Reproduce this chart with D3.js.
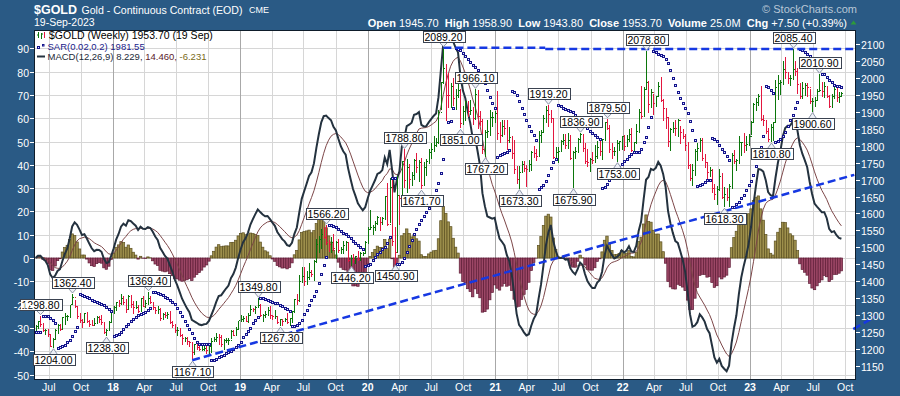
<!DOCTYPE html>
<html>
<head>
<meta charset="utf-8">
<script src="https://cdn.jsdelivr.net/npm/d3@7"></script>
<style>
  body { margin: 0; background: #2a5a85; }
  svg { display: block; }
  text { font-family: "Liberation Sans", Arial, sans-serif; }
</style>
</head>
<body>
<svg id="chart" width="900" height="396"></svg>
<script>
// weekly bars [high, low, close], first week starts Mon 22-May-2017
var bars2017 = [[1272,1250,1268],[1283,1260,1280],[1298.8,1266,1271],[1277,1250,1255],[1260,1240,1256],[1258,1235,1242],[1245,1205,1209],[1233,1204,1228],[1258,1227,1255],[1273,1245,1269],[1275,1254,1258],[1295,1255,1294],[1306,1270,1297],[1301,1282,1297],[1331,1293,1330],[1362.4,1330,1351],[1345,1322,1325],[1327,1290,1297],[1305,1276,1284],[1290,1262,1277],[1306,1276,1305],[1310,1276,1280],[1286,1264,1272],[1285,1268,1269],[1292,1268,1274],[1298,1273,1294],[1298,1278,1288],[1300,1272,1279],[1280,1244,1249],[1260,1238.3,1256],[1282,1254,1279],[1310,1278,1309]];
var bars2018 = [[1326,1302,1322],[1340,1311,1338],[1345,1324,1333],[1362,1330,1350],[1357,1331,1337],[1348,1307,1316],[1360,1315,1356],[1358,1322,1330],[1341,1303,1323],[1342,1317,1324],[1330,1306,1312],[1352,1310,1349],[1357,1323,1327],[1344,1322,1335],[1369.4,1330,1348],[1357,1333,1338],[1339,1315,1323],[1320,1302,1315],[1326,1304,1318],[1321,1282,1291],[1307,1285,1303],[1310,1293,1298],[1310,1289,1302],[1311,1275,1278],[1282,1262,1270],[1273,1246,1254],[1265,1239,1255],[1262,1236,1241],[1245,1211,1231],[1237,1222,1231],[1237,1211,1223],[1225,1206,1219],[1222,1167.1,1191],[1216,1182,1212],[1216,1196,1206],[1210,1194,1199],[1214,1193,1199],[1214,1194,1202],[1209,1185,1196],[1210,1181,1207],[1233,1187,1222],[1237,1220,1227],[1246,1222,1235],[1243,1211,1234],[1240,1205,1212],[1230,1197,1225],[1232,1217,1226],[1233,1212,1226],[1256,1230,1252],[1257,1238,1241],[1264,1240,1258],[1284,1258,1283],[1301,1279,1287]];
var bars2019 = [[1298,1280,1290],[1298,1279,1282],[1305,1276,1298],[1331,1297,1318],[1322,1308,1316],[1327,1303,1322],[1349.8,1320,1329],[1333,1294,1298],[1303,1281,1299],[1312,1293,1302],[1325,1298,1314],[1327,1290,1298],[1301,1286,1295],[1315,1288,1295],[1295,1274,1277],[1290,1267.3,1286],[1288,1268,1282],[1292,1279,1287],[1305,1275,1277],[1291,1267,1289],[1312,1276,1311],[1349,1306,1346],[1362,1329,1344],[1418,1340,1400],[1442,1395,1413],[1442,1386,1400],[1430,1388,1412],[1453,1403,1427],[1433,1412,1419],[1462,1400,1457],[1524,1453,1509],[1535,1482,1523],[1555,1495,1537],[1560,1525,1529],[1566.2,1506,1515],[1521,1485,1507],[1530,1484,1515],[1540,1488,1497],[1519,1465,1513],[1524,1483,1492],[1500,1479,1494],[1519,1481,1505],[1519,1490,1514],[1514,1456,1462],[1478,1446.2,1468],[1479,1455,1463],[1474,1452,1473],[1488,1461,1465],[1486,1460,1481],[1487,1476,1481],[1519,1479,1515],[1559,1511,1552]];
var bars2020 = [[1611,1552,1560],[1565,1536,1560],[1577,1547,1571],[1592,1565,1587],[1587,1548,1573],[1589,1565,1586],[1651,1580,1649],[1691,1563,1566],[1705,1572,1676],[1704,1505,1516],[1560,1450.9,1484],[1710,1483,1654],[1652,1566,1645],[1756,1643,1752],[1788.8,1676,1698],[1761,1660,1735],[1747,1672,1700],[1723,1681,1713],[1762,1698,1756],[1779,1720,1735],[1758,1693,1751],[1764,1671.7,1683],[1751,1683,1737],[1760,1711,1753],[1789,1746,1780],[1807,1760,1790],[1829,1782,1802],[1822,1795,1810],[1905,1804,1897],[1988,1905,1985],[2089.2,1981,2028],[2040,1874,1949],[2015,1911,1947],[1985,1911,1975],[2001,1916,1940],[1967,1906,1948],[1989,1941,1962],[1967,1851,1866],[1918,1860,1900],[1931,1873,1930],[1933,1885,1900],[1936,1890,1905],[1913,1860,1880],[1966.1,1877,1952],[1964,1850,1886],[1901,1859,1872],[1878,1775,1788],[1846,1767.2,1840],[1877,1823,1843],[1906,1828,1882],[1900,1856,1883],[1902,1866,1895]];
var bars2021 = [[1962,1817,1835],[1870,1808,1830],[1877,1827,1856],[1876,1831,1850],[1876,1786,1814],[1855,1809,1824],[1829,1760,1777],[1816,1716,1729],[1741,1687,1699],[1740,1673.3,1720],[1756,1718,1745],[1756,1722,1733],[1743,1678,1729],[1759,1722,1744],[1785,1726,1780],[1798,1763,1777],[1790,1756,1768],[1843,1769,1831],[1846,1808,1838],[1890,1838,1881],[1916,1868,1905],[1919.2,1856,1892],[1905,1868,1879],[1878,1762,1764],[1797,1768,1781],[1796,1750,1784],[1818,1783,1811],[1834,1801,1816],[1834,1789,1801],[1836,1790,1814],[1832,1759,1763],[1783,1675.9,1780],[1795,1762,1782],[1822,1778,1819],[1836.9,1808,1833],[1834,1781,1791],[1809,1745,1752],[1789,1737,1751],[1764,1721,1759],[1781,1745,1757],[1801,1750,1768],[1815,1760,1796],[1814,1770,1784],[1820,1758,1818],[1871,1815,1868],[1879.5,1845,1852],[1862,1779,1788],[1809,1762,1784],[1795,1770,1784],[1816,1753,1805],[1815,1785,1812],[1830,1786,1828]];
var bars2022 = [[1831,1785,1797],[1832,1795,1817],[1848,1810,1832],[1853,1780,1786],[1812,1781,1808],[1865,1806,1842],[1907,1838,1898],[1976,1878,1887],[1974,1889,1966],[2078.8,1964,1985],[1990,1895,1921],[1966,1910,1958],[1953,1890,1923],[1947,1915,1945],[1988,1943,1974],[2003,1930,1934],[1938,1872,1911],[1909,1850,1882],[1884,1797,1811],[1853,1785,1847],[1871,1837,1851],[1875,1828,1850],[1879,1825,1875],[1859,1805,1840],[1848,1820,1827],[1835,1784,1801],[1812,1732,1742],[1747,1695,1703],[1745,1680,1727],[1789,1711,1782],[1808,1754,1791],[1824,1780,1815],[1824,1754,1762],[1775,1735,1749],[1751,1699,1722],[1736,1708,1728],[1732,1661,1675],[1688,1641,1655],[1680,1624,1672],[1732,1665,1709],[1720,1642,1648],[1677,1618.3,1656],[1675,1638,1648],[1686,1620,1681],[1779,1673,1771],[1786,1747,1754],[1760,1724,1755],[1830,1745,1809],[1812,1770,1810],[1836,1779,1800],[1830,1785,1804],[1834,1798,1826]];
var bars2023 = [[1874,1831,1869],[1926,1867,1921],[1941,1903,1928],[1953,1918,1945],[1975,1873,1876],[1891,1858,1874],[1877,1834,1842],[1852,1811,1817],[1865,1810.8,1855],[1870,1813,1867],[1993,1866,1973],[2010,1934,1983],[1994,1950,1986],[2050,1978,2025],[2063,1997,2015],[2018,1982,1999],[2010,1975,1999],[2085.4,1995,2025],[2051,2007,2019],[2030,1952,1981],[1985,1939,1946],[1988,1938,1969],[1985,1947,1977],[1985,1943,1971],[1966,1923,1929],[1940,1900.6,1929],[1944,1913,1933],[1966,1932,1960],[2010.9,1957,1962],[1989,1943,1960],[1987,1940,1976],[1976,1940,1946],[1950,1910,1916],[1952,1911,1946],[1975,1937,1966],[1974,1930,1942],[1958,1925,1946],[1958.9,1943.8,1953.7]];
var firstOpen = 1258;

var highLabels = [["2017-06-06",1298.80],["2017-09-08",1362.40],["2018-04-11",1369.40],["2019-02-20",1349.80],["2019-09-04",1566.20],["2020-04-14",1788.80],["2020-08-07",2089.20],["2020-11-06",1966.10],["2021-06-01",1919.20],["2021-09-03",1836.90],["2021-11-16",1879.50],["2022-03-08",2078.80],["2023-05-04",2085.40],["2023-07-20",2010.90]];
var lowLabels = [["2017-07-10",1204.00],["2017-12-12",1238.30],["2018-08-16",1167.10],["2019-04-23",1267.30],["2019-11-12",1446.20],["2020-03-16",1450.90],["2020-06-05",1671.70],["2020-09-24",1851.00],["2020-11-30",1767.20],["2021-03-08",1673.30],["2021-08-09",1675.90],["2021-12-15",1753.00],["2022-10-21",1618.30],["2023-02-28",1810.80],["2023-06-29",1900.60]];

// hand drawn trend lines [date, price]
var resistanceA = [["2020-08-05",2089.2],["2021-05-24",2089.2]];
var resistanceB = [["2021-05-24",2085],["2023-10-27",2085]];
var supportLine = [["2018-08-16",1167.1],["2023-10-27",1714]];
var supportStub = [["2023-10-24",1259],["2023-12-25",1295]];

var macdTicks = d3.range(-50, 91, 10);
var priceTicks = d3.range(1150, 2101, 50);

var bg = "#2a5a85";
var W = 900, H = 396;
var plot = {l: 34, r: 856, t: 30, b: 380};

var parse = d3.timeParse("%Y-%m-%d");
var startWeek = new Date(2017, 4, 22);
var bars = [].concat(bars2017, bars2018, bars2019, bars2020, bars2021, bars2022, bars2023);

var x = d3.scaleTime()
    .domain([new Date(2018, 0, 1), new Date(2023, 0, 1)])
    .range([113, 750]);
var yPrice = d3.scaleLinear().domain([1150, 2100]).range([366, 44]);
var yMacd = d3.scaleLinear().domain([0, 90]).range([258, 48.3]);

var weekDate = function(i) { return d3.timeDay.offset(startWeek, 7 * i); };
var barX = function(i) { return x(d3.timeDay.offset(weekDate(i), 2)); };
var weekIndex = function(d) {
    var days = Math.round((d - startWeek) / 864e5);
    return Math.floor(days / 7);
};

// indicators from the weekly closes / ranges
var closes = bars.map(function(b) { return b[2]; });
var ema = function(vals, n) {
    var k = 2 / (n + 1), e = vals[0];
    return vals.map(function(v, i) { if (i) e = v * k + e * (1 - k); return e; });
};
var e12 = ema(closes, 12), e26 = ema(closes, 26);
var macd = e12.map(function(v, i) { return v - e26[i]; });
var signal = ema(macd, 9);
var hist = macd.map(function(v, i) { return v - signal[i]; });

var sar = (function() {
    var out = [], up = closes[1] >= closes[0], af = 0.02;
    var ep = up ? bars[0][0] : bars[0][1];
    var s = up ? bars[0][1] : bars[0][0];
    out[0] = s;
    for (var i = 1; i < bars.length; i++) {
        s = s + af * (ep - s);
        var hi = bars[i][0], lo = bars[i][1];
        if (up) {
            s = Math.min(s, bars[i - 1][1], bars[Math.max(0, i - 2)][1]);
            if (lo < s) { up = false; s = ep; ep = lo; af = 0.02; }
            else if (hi > ep) { ep = hi; af = Math.min(af + 0.02, 0.2); }
        } else {
            s = Math.max(s, bars[i - 1][0], bars[Math.max(0, i - 2)][0]);
            if (hi > s) { up = true; s = ep; ep = hi; af = 0.02; }
            else if (lo < ep) { ep = lo; af = Math.min(af + 0.02, 0.2); }
        }
        out[i] = s;
    }
    return out;
})();

var svg = d3.select("#chart");
svg.append("rect").attr("width", W).attr("height", H).attr("fill", bg);

svg.append("defs").append("clipPath").attr("id", "clip")
   .append("rect").attr("x", plot.l + 0.5).attr("y", plot.t + 0.5)
   .attr("width", plot.r - plot.l - 1).attr("height", plot.b - plot.t - 1);

svg.append("rect").attr("x", plot.l).attr("y", plot.t)
   .attr("width", plot.r - plot.l).attr("height", plot.b - plot.t).attr("fill", "#fff");

// grid
var months = d3.timeMonth.range(new Date(2017, 6, 1), new Date(2023, 9, 2), 3);
var grid = svg.append("g").attr("shape-rendering", "crispEdges");
grid.selectAll("line.h").data(macdTicks).enter().append("line")
    .attr("x1", plot.l).attr("x2", plot.r)
    .attr("y1", function(d) { return Math.round(yMacd(d)) + 0.5; })
    .attr("y2", function(d) { return Math.round(yMacd(d)) + 0.5; })
    .attr("stroke", "#d6d6d6");
grid.selectAll("line.v").data(months).enter().append("line")
    .attr("x1", function(d) { return Math.round(x(d)) + 0.5; })
    .attr("x2", function(d) { return Math.round(x(d)) + 0.5; })
    .attr("y1", plot.t).attr("y2", plot.b)
    .attr("stroke", function(d) { return d.getMonth() === 0 ? "#a8a8a8" : "#d6d6d6"; });

var inner = svg.append("g").attr("clip-path", "url(#clip)");

// MACD histogram
var step = barX(1) - barX(0);
inner.append("g").selectAll("rect").data(hist).enter().append("rect")
    .attr("x", function(d, i) { return barX(i) - step / 2; })
    .attr("width", step)
    .attr("y", function(d) { return Math.min(yMacd(d), yMacd(0)); })
    .attr("height", function(d) { return Math.abs(yMacd(d) - yMacd(0)); })
    .attr("fill", function(d) { return d >= 0 ? "#9d8f4c" : "#9c4766"; })
    .attr("stroke", function(d) { return d >= 0 ? "#5c5020" : "#5e1c36"; })
    .attr("stroke-width", 0.7);

var macdLine = d3.line().x(function(d, i) { return barX(i); }).y(function(d) { return yMacd(d); });
inner.append("path").datum(signal).attr("d", macdLine)
     .attr("fill", "none").attr("stroke", "#7c4648").attr("stroke-width", 1);
inner.append("path").datum(macd).attr("d", macdLine)
     .attr("fill", "none").attr("stroke", "#24323f").attr("stroke-width", 2);

// price bars
var pb = inner.append("g").attr("shape-rendering", "crispEdges");
bars.forEach(function(b, i) {
    var open = i ? bars[i - 1][2] : firstOpen;
    var prev = i ? bars[i - 1][2] : firstOpen;
    var px = Math.round(barX(i)) + 0.5;
    pb.append("path")
      .attr("d", "M" + px + "," + yPrice(b[0]) + "V" + yPrice(b[1]) +
                 "M" + (px - 1) + "," + yPrice(open) + "h1" +
                 "M" + px + "," + yPrice(b[2]) + "h1.5")
      .attr("fill", "none")
      .attr("stroke", b[2] >= prev ? "#0b760b" : "#e3173f")
      .attr("stroke-width", 1);
});

// parabolic SAR
inner.append("g").selectAll("rect").data(sar).enter().append("rect")
    .attr("x", function(d, i) { return Math.round(barX(i)) - 0.5; })
    .attr("y", function(d) { return Math.round(yPrice(d)) - 0.5; })
    .attr("width", 2).attr("height", 2)
    .attr("fill", "#dfe3ff").attr("stroke", "#14148c").attr("stroke-width", 1);

// trend lines
var tl = d3.line().x(function(d) { return x(parse(d[0])); }).y(function(d) { return yPrice(d[1]); });
[resistanceA, resistanceB, supportLine].forEach(function(seg) {
    inner.append("path").datum(seg).attr("d", tl)
         .attr("fill", "none").attr("stroke", "#1638e2").attr("stroke-width", 2.5)
         .attr("stroke-dasharray", "8,4");
});
svg.append("path").datum(supportStub).attr("d", tl)
   .attr("fill", "none").attr("stroke", "#1638e2").attr("stroke-width", 2.5)
   .attr("stroke-dasharray", "8,4");

// plot frame
svg.append("rect").attr("x", plot.l + 0.5).attr("y", plot.t + 0.5)
   .attr("width", plot.r - plot.l - 1).attr("height", plot.b - plot.t - 1)
   .attr("fill", "none").attr("stroke", "#0e1c2a").attr("stroke-width", 1);

// price labels
var labelLayer = svg.append("g");
var addLabel = function(d, isHigh) {
    var i = weekIndex(parse(d[0]));
    var px = Math.round(barX(i)) + 0.5;
    var py = yPrice(d[1]);
    var g = labelLayer.append("g");
    var t = g.append("text").text(d3.format(".2f")(d[1]))
             .attr("font-size", "10.5px").attr("fill", "#000").attr("text-anchor", "middle");
    var w = t.node().getComputedTextLength() + 4, h = 11;
    var top = isHigh ? Math.round(py - 6 - h) + 0.5 : Math.round(py + 6) + 0.5;
    var edge = isHigh ? top + h : top;
    g.insert("path", "text")
     .attr("d", "M" + (px - 4) + "," + edge + "L" + px + "," + (isHigh ? py - 1 : py + 1) + "L" + (px + 4) + "," + edge)
     .attr("fill", "#eef0f6").attr("stroke", "#8c96aa").attr("stroke-width", 1);
    g.insert("rect", "text").attr("x", Math.round(px - w / 2) + 0.5).attr("y", top)
     .attr("width", Math.round(w)).attr("height", h)
     .attr("fill", "#fff").attr("stroke", "#3a4250").attr("stroke-width", 1);
    t.attr("x", px).attr("y", top + h - 1.5);
};
highLabels.forEach(function(d) { addLabel(d, true); });
lowLabels.forEach(function(d) { addLabel(d, false); });

// axes
var axes = svg.append("g").attr("fill", "#fff").attr("font-size", "10.5px");
macdTicks.forEach(function(v) {
    var yy = Math.round(yMacd(v)) + 0.5;
    axes.append("text").attr("x", 29).attr("y", yy + 4).attr("text-anchor", "end").text(v);
    svg.append("line").attr("x1", 30).attr("x2", plot.l).attr("y1", yy).attr("y2", yy)
       .attr("stroke", "#fff");
});
priceTicks.forEach(function(v) {
    var yy = Math.round(yPrice(v)) + 0.5;
    axes.append("text").attr("x", 861).attr("y", yy + 4).text(v);
    svg.append("line").attr("x1", plot.r).attr("x2", plot.r + 4).attr("y1", yy).attr("y2", yy)
       .attr("stroke", "#fff");
});
months.forEach(function(d) {
    var jan = d.getMonth() === 0;
    axes.append("text").attr("x", x(d)).attr("y", 391).attr("text-anchor", "middle")
        .attr("font-weight", jan ? "bold" : "normal")
        .text(jan ? d3.timeFormat("%y")(d) : d3.timeFormat("%b")(d));
});

// header
var head = svg.append("g").attr("fill", "#fff");
head.append("text").attr("x", 34).attr("y", 13.5).attr("font-size", "13px").attr("font-weight", "bold")
    .attr("textLength", 43).attr("lengthAdjust", "spacingAndGlyphs").text("$GOLD");
head.append("text").attr("x", 81.5).attr("y", 13.5).attr("font-size", "11px")
    .attr("textLength", 161).attr("lengthAdjust", "spacingAndGlyphs").text("Gold - Continuous Contract (EOD)");
head.append("text").attr("x", 249).attr("y", 13).attr("font-size", "9px")
    .attr("textLength", 20).attr("lengthAdjust", "spacingAndGlyphs").text("CME");
head.append("text").attr("x", 34).attr("y", 26).attr("font-size", "10.5px").text("19-Sep-2023");
var info = head.append("text").attr("x", 847).attr("y", 26.5).attr("font-size", "11px").attr("text-anchor", "end");
[["Open", true], [" 1945.70  ", false], ["High", true], [" 1958.90  ", false], ["Low", true],
 [" 1943.80  ", false], ["Close", true], [" 1953.70  ", false], ["Volume", true], [" 25.0M  ", false],
 ["Chg", true], [" +7.50 (+0.39%)", false]].forEach(function(p) {
    info.append("tspan").attr("font-weight", p[1] ? "bold" : "normal").attr("xml:space", "preserve").text(p[0]);
});
head.append("path").attr("d", "M850.5,24.5L853.5,20.5L856.5,24.5Z").attr("fill", "#2e9a3a");
svg.append("text").attr("x", 857).attr("y", 13).attr("text-anchor", "end").attr("font-size", "11px")
   .attr("fill", "#b9c7d6").text("\u00a9 StockCharts.com");

// legend
var leg = svg.append("g");
leg.append("path").attr("d", "M38.5,32V38M37,35h1.5M41.5,33V39M41.5,34h1.5").attr("stroke", "#0b760b").attr("fill", "none");
leg.append("path").attr("d", "M44.5,32V38").attr("stroke", "#e3173f");
leg.append("text").attr("x", 49).attr("y", 39).attr("font-family", "DejaVu Sans Mono")
   .attr("font-size", "10.5px").attr("fill", "#000").text("$GOLD (Weekly) 1953.70 (19 Sep)");
leg.append("rect").attr("x", 37.5).attr("y", 46.5).attr("width", 2).attr("height", 2)
   .attr("fill", "#dfe3ff").attr("stroke", "#14148c");
leg.append("rect").attr("x", 42.5).attr("y", 44.5).attr("width", 1.5).attr("height", 1.5)
   .attr("fill", "#dfe3ff").attr("stroke", "#14148c");
leg.append("text").attr("x", 47.5).attr("y", 50).attr("font-size", "9.5px").attr("fill", "#1a1a8a")
   .text("SAR(0.02,0.2) 1981.55");
leg.append("line").attr("x1", 37).attr("x2", 45).attr("y1", 56.5).attr("y2", 56.5)
   .attr("stroke", "#24323f").attr("stroke-width", 2);
var mt = leg.append("text").attr("x", 47.5).attr("y", 59.5).attr("font-size", "9.5px");
mt.append("tspan").attr("fill", "#1c2a38").text("MACD(12,26,9) 8.229, ");
mt.append("tspan").attr("fill", "#5a1a2c").text("14.460, ");
mt.append("tspan").attr("fill", "#7a6a18").text("-6.231");
</script>
</body>
</html>
